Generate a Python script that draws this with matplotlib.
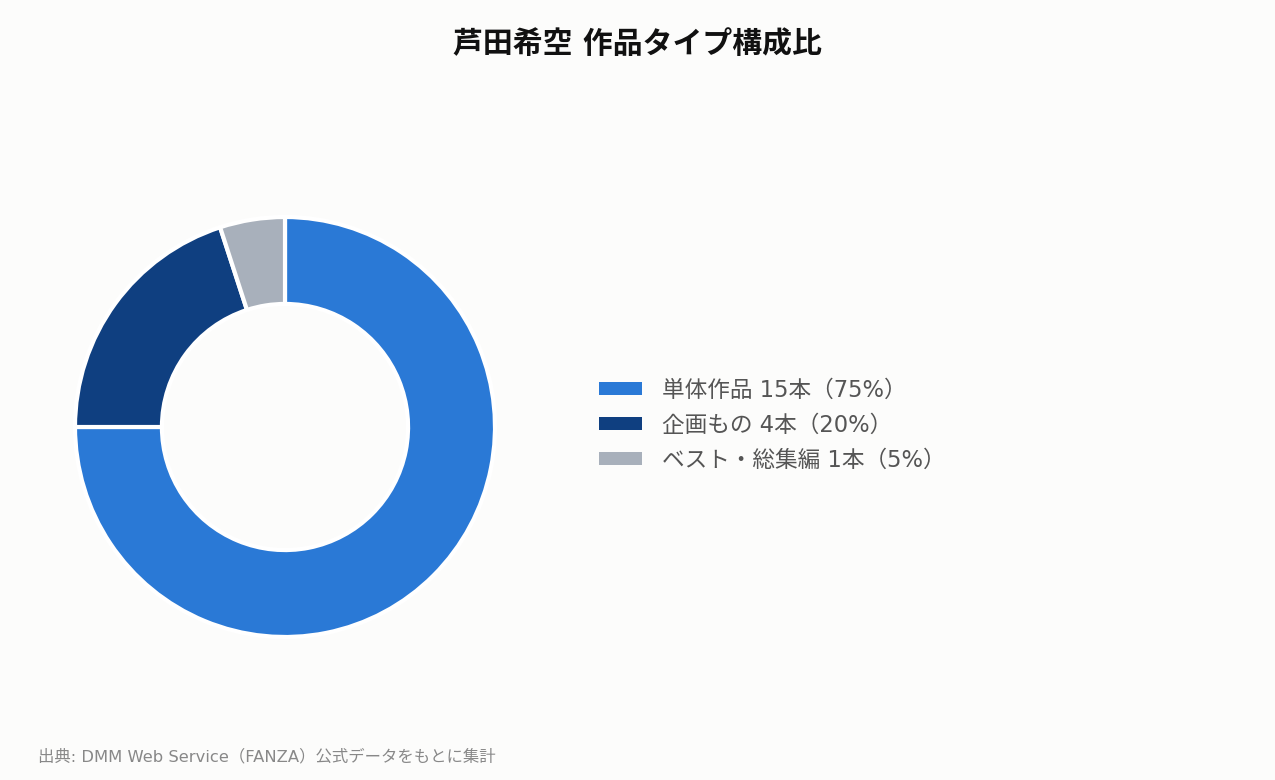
import matplotlib.pyplot as plt
from matplotlib.patches import Patch

plt.rcParams['font.family'] = ['DejaVu Sans', 'Noto Sans CJK JP']

# データ
labels = ['単体作品', '企画もの', 'ベスト・総集編']
counts = [15, 4, 1]
colors = ['#2a79d6', '#0f3f80', '#a8b0bb']

total = sum(counts)
legend_labels = [f'{l} {c}本（{round(c / total * 100)}%）' for l, c in zip(labels, counts)]

bg = '#fcfcfb'
fig = plt.figure(figsize=(12.75, 7.8), dpi=100, facecolor=bg)

# ドーナツの位置 (中心 285,427 / 半径 210px)
ax = fig.add_axes([75 / 1275, (780 - 427 - 210) / 780, 420 / 1275, 420 / 780])
ax.set_facecolor(bg)
ax.pie(counts, colors=colors, startangle=90, counterclock=False,
       wedgeprops=dict(width=0.414, edgecolor='white', linewidth=3))
ax.set_xlim(-1.0, 1.0)
ax.set_ylim(-1.0, 1.0)
ax.set_aspect('equal')

handles = [Patch(facecolor=c, edgecolor='none') for c in colors]
leg = fig.legend(handles, legend_labels, loc='center left',
                 bbox_to_anchor=(579 / 1275, 1 - 425 / 780),
                 frameon=False, fontsize=16.3, handlelength=1.87, handleheight=0.55,
                 handletextpad=0.88, labelspacing=0.53, labelcolor='#555555')

fig.text(0.5, 1 - 44 / 780, '芦田希空 作品タイプ構成比', ha='center', va='center',
         fontsize=21.5, fontweight='bold', color='#111111')
fig.text(38 / 1275, 1 - 757 / 780, '出典: DMM Web Service（FANZA）公式データをもとに集計',
         ha='left', va='center', fontsize=11.8, color='#888888')

fig.savefig('out.png', dpi=100, facecolor=bg)
